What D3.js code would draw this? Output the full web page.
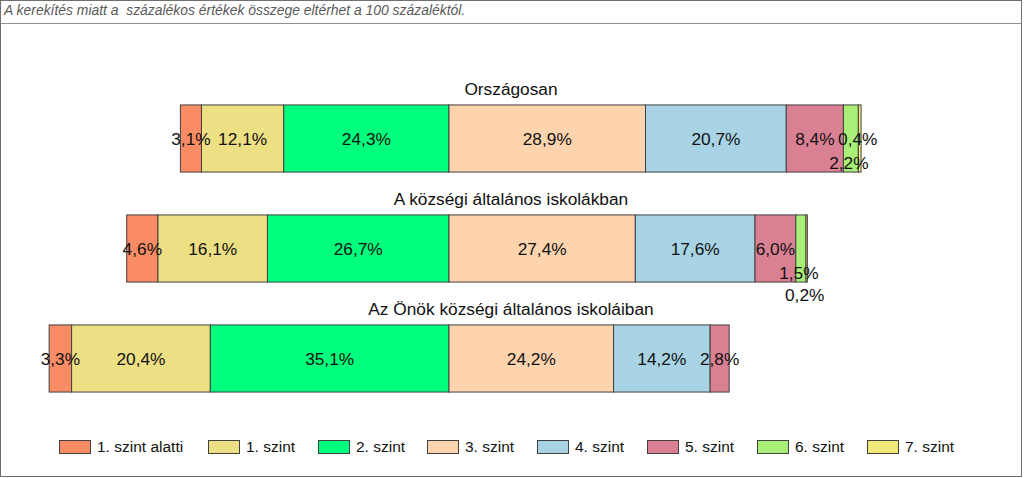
<!DOCTYPE html>
<html>
<head>
<meta charset="utf-8">
<script src="https://cdn.jsdelivr.net/npm/d3@7/dist/d3.min.js"></script>
<style>
  html, body { margin: 0; padding: 0; background: #fff; }
  svg { display: block; font-family: "Liberation Sans", Arial, sans-serif; }
</style>
</head>
<body>
<svg id="chart" width="1024" height="478"></svg>
<script>
// ---- Data ----
const note = "A kerekítés miatt a  százalékos értékek összege eltérhet a 100 százaléktól.";
const groups = ["Országosan", "A községi általános iskolákban", "Az Önök községi általános iskoláiban"];
const levels = ["1. szint alatti", "1. szint", "2. szint", "3. szint", "4. szint", "5. szint", "6. szint", "7. szint"];
const valuesOrszagosan = [3.1, 12.1, 24.3, 28.9, 20.7, 8.4, 2.2, 0.4];
const valuesKozsegi    = [4.6, 16.1, 26.7, 27.4, 17.6, 6.0, 1.5, 0.2];
const valuesOnok       = [3.3, 20.4, 35.1, 24.2, 14.2, 2.8, 0, 0];
const colors = ["#F98C64", "#EDDF83", "#00FF7C", "#FDD4AE", "#A7D3E4", "#DA8093", "#A8EE77", "#F1EA7A"];

const series = [valuesOrszagosan, valuesKozsegi, valuesOnok];

// ---- Layout ----
const svg = d3.select("#chart");

// frame
svg.append("rect").attr("x", 0.5).attr("y", 0.5).attr("width", 1021).attr("height", 476)
  .attr("fill", "#fff").attr("stroke", "#6f6f6f");
svg.append("line").attr("x1", 0.5).attr("x2", 1021.5).attr("y1", 23.5).attr("y2", 23.5)
  .attr("stroke", "#8f8f8f");

svg.append("text").attr("x", 4).attr("y", 15)
  .attr("font-size", 13.9).attr("font-style", "italic").attr("fill", "#595959")
  .style("white-space", "pre").text(note);

// x: percent offset relative to the 2./3. szint boundary
const x = d3.scaleLinear().domain([-60, 60]).range([449 - 408, 449 + 408]);
const y = d3.scaleBand().domain(groups).range([83.5, 413.5]).paddingInner(0.39).paddingOuter(0.195);

// build stacked segments
const segs = [];
series.forEach((vals, gi) => {
  const offset = d3.sum(vals.slice(0, 3));
  let cum = -offset;
  vals.forEach((v, li) => {
    segs.push({ group: groups[gi], gi, li, v, x0: cum, x1: cum + v });
    cum += v;
  });
});

svg.append("g").selectAll("rect").data(segs.filter(d => d.v > 0)).join("rect")
  .attr("x", d => x(d.x0))
  .attr("y", d => y(d.group))
  .attr("width", d => x(d.x1) - x(d.x0))
  .attr("height", y.bandwidth())
  .attr("fill", d => colors[d.li])
  .attr("stroke", "#404040")
  .attr("stroke-width", 1);

// group titles
svg.append("g").selectAll("text").data(groups).join("text")
  .attr("x", 511)
  .attr("y", d => y(d) - 10)
  .attr("text-anchor", "middle")
  .attr("font-size", 17.3)
  .attr("fill", "#111")
  .text(d => d);

// label nudges for crowded small segments (layout rule)
function labelDy(d) {
  if (d.li === 6 && d.v > 0) return 24;
  if (d.li === 7 && d.gi === 1) return 46;
  return 0;
}
function labelDx(d) {
  if (d.li >= 6) return -2;
  return 0;
}
const fmt = v => v.toFixed(1).replace(".", ",") + "%";

svg.append("g").selectAll("text").data(segs.filter(d => d.v > 0)).join("text")
  .attr("x", d => (x(d.x0) + x(d.x1)) / 2 + labelDx(d))
  .attr("y", d => y(d.group) + y.bandwidth() / 2 + labelDy(d))
  .attr("dy", "0.35em")
  .attr("text-anchor", "middle")
  .attr("font-size", 17.3)
  .attr("fill", "#111")
  .text(d => fmt(d.v));

// legend
const legendX = [59, 208, 318, 427, 537, 647, 757, 867];
const lg = svg.append("g");
levels.forEach((name, i) => {
  const g = lg.append("g").attr("transform", `translate(${legendX[i]},440)`);
  g.append("rect").attr("x", 0.5).attr("y", 0.5).attr("width", 31).attr("height", 13)
    .attr("fill", colors[i]).attr("stroke", "#404040");
  g.append("text").attr("x", 38).attr("y", 7).attr("dy", "0.35em")
    .attr("font-size", 15.5).attr("fill", "#111").text(name);
});
</script>
</body>
</html>
